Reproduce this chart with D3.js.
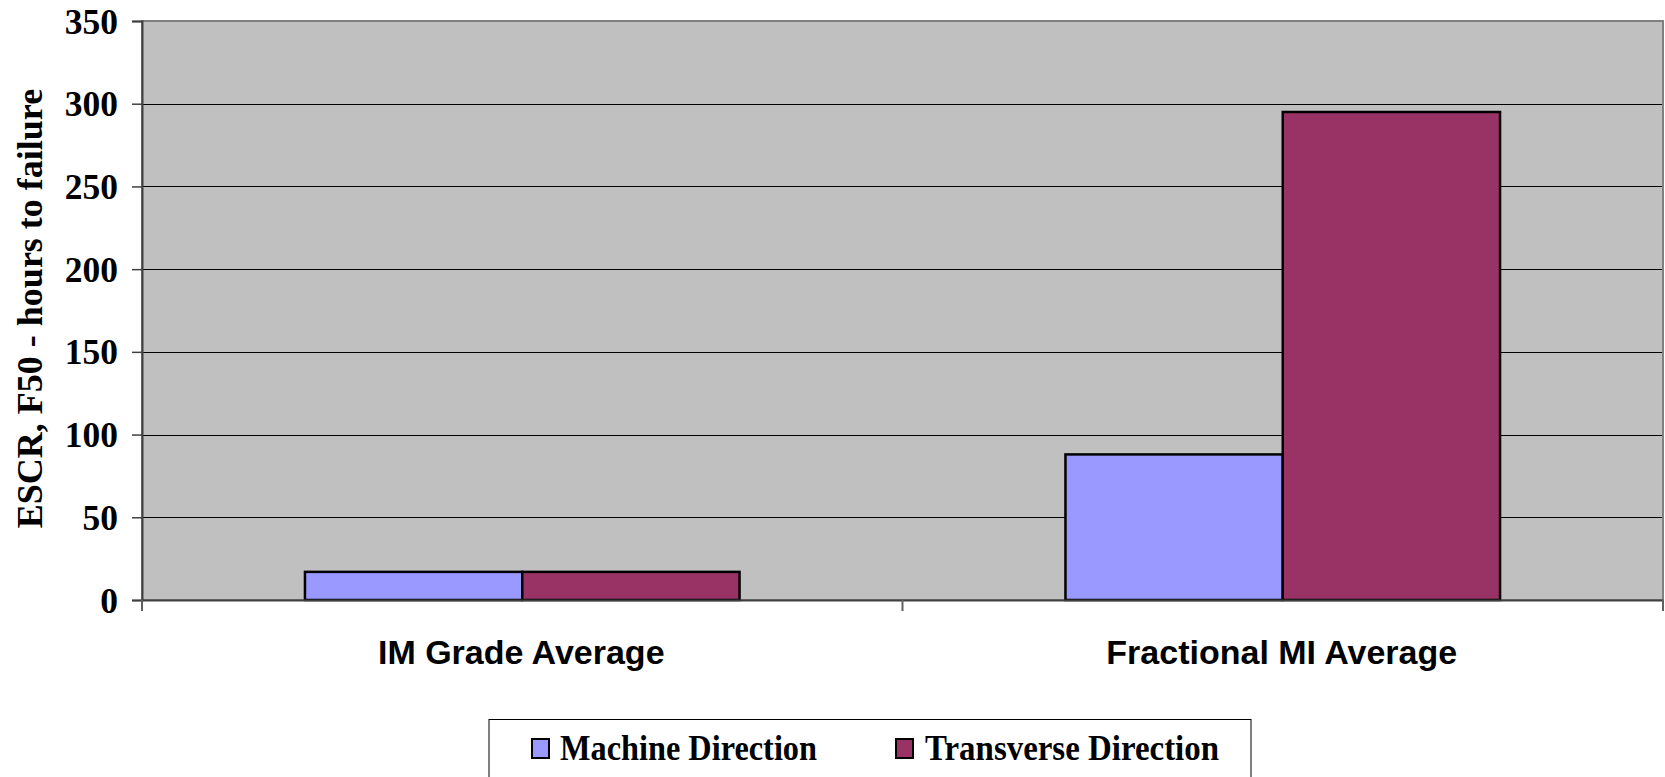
<!DOCTYPE html>
<html>
<head>
<meta charset="utf-8">
<script src="https://cdn.jsdelivr.net/npm/d3@7"></script>
<style>
  html, body { margin: 0; padding: 0; background: #fff; }
  svg { display: block; }
</style>
</head>
<body>
<script>
const categories = ["IM Grade Average", "Fractional MI Average"];
const seriesNames = ["Machine Direction", "Transverse Direction"];
const machineDirection = [17, 88];
const transverseDirection = [17, 295];
const yTicks = [0, 50, 100, 150, 200, 250, 300, 350];
const colors = ["#9999FF", "#993366"];
const yLabel = "ESCR, F50 - hours to failure";

const W = 1665, H = 777;
const m = { left: 142, right: 1663, top: 21, bottom: 600 };

const svg = d3.select("body").append("svg").attr("width", W).attr("height", H);

const x0 = d3.scaleBand().domain(categories).range([m.left, m.right]).paddingInner(0).paddingOuter(0);
const x1 = d3.scaleBand().domain(seriesNames).range([0, x0.bandwidth()]).paddingOuter(0.75).paddingInner(0);
const y = d3.scaleLinear().domain([0, 350]).range([m.bottom, m.top]);

// plot background
svg.append("rect").attr("x", m.left).attr("y", m.top)
  .attr("width", m.right - m.left).attr("height", m.bottom - m.top)
  .attr("fill", "#C0C0C0").attr("stroke", "#808080").attr("stroke-width", 2);

// gridlines
svg.append("g").selectAll("line").data(yTicks.filter(d => d > 0 && d < 350)).join("line")
  .attr("x1", m.left).attr("x2", m.right - 1)
  .attr("y1", d => Math.round(y(d)) + 0.5).attr("y2", d => Math.round(y(d)) + 0.5)
  .attr("stroke", "#000").attr("stroke-width", 1);

// bars
const data = categories.map((c, i) => ({ cat: c, vals: [machineDirection[i], transverseDirection[i]] }));
const groups = svg.append("g").selectAll("g").data(data).join("g")
  .attr("transform", d => `translate(${x0(d.cat)},0)`);
groups.selectAll("rect").data(d => d.vals.map((v, j) => ({ v, s: seriesNames[j], j }))).join("rect")
  .attr("x", d => x1(d.s)).attr("width", x1.bandwidth())
  .attr("y", d => y(d.v)).attr("height", d => y(0) - y(d.v))
  .attr("fill", d => colors[d.j]).attr("stroke", "#000").attr("stroke-width", 2.5);

// y axis
const yAxis = d3.axisLeft(y).tickValues(yTicks).tickSize(10).tickPadding(14).tickFormat(d3.format("d"));
const gy = svg.append("g").attr("transform", `translate(${m.left},0)`).call(yAxis);
gy.select(".domain").attr("stroke", "#404040").attr("stroke-width", 2);
gy.selectAll(".tick line").attr("stroke", "#404040").attr("stroke-width", 1.5);
gy.selectAll(".tick text")
  .attr("font-family", "'Liberation Serif', 'Times New Roman', serif")
  .attr("font-weight", "bold").attr("font-size", 35.5).attr("fill", "#000")
  .attr("dy", "0.34em");

// x axis
const xAxis = d3.axisBottom(x0).tickSize(0).tickFormat("");
const gx = svg.append("g").attr("transform", `translate(0,${m.bottom})`).call(xAxis);
gx.select(".domain").attr("stroke", "#404040").attr("stroke-width", 2);
// category boundary ticks
const bounds = [m.left, x0(categories[1]), m.right];
svg.append("g").selectAll("line").data(bounds).join("line")
  .attr("x1", d => d).attr("x2", d => d)
  .attr("y1", m.bottom).attr("y2", m.bottom + 11)
  .attr("stroke", "#606060").attr("stroke-width", 2);

// category labels
svg.append("g").selectAll("text").data(categories).join("text")
  .attr("x", d => x0(d) + x0.bandwidth() / 2 - 1)
  .attr("y", 663.5)
  .attr("text-anchor", "middle")
  .attr("font-family", "'Liberation Sans', Arial, sans-serif")
  .attr("font-weight", "bold").attr("font-size", 34).attr("fill", "#000")
  .text(d => d);

// y label
svg.append("text")
  .attr("transform", `translate(41.5,${(m.top + m.bottom) / 2 - 2}) rotate(-90)`)
  .attr("text-anchor", "middle")
  .attr("font-family", "'Liberation Serif', 'Times New Roman', serif")
  .attr("font-weight", "bold").attr("font-size", 36).attr("fill", "#000")
  .text(yLabel);

// legend
const lg = svg.append("g");
lg.append("rect").attr("x", 489).attr("y", 719.5).attr("width", 762).attr("height", 80)
  .attr("fill", "#fff").attr("stroke", "#000").attr("stroke-width", 1);
const legendItems = [
  { name: seriesNames[0], color: colors[0], sx: 532, tx: 560, tw: 257 },
  { name: seriesNames[1], color: colors[1], sx: 896, tx: 925, tw: 294 }
];
legendItems.forEach(it => {
  lg.append("rect").attr("x", it.sx).attr("y", 739).attr("width", 17).attr("height", 19)
    .attr("fill", it.color).attr("stroke", "#000").attr("stroke-width", 2);
  lg.append("text").attr("x", it.tx).attr("y", 760)
    .attr("font-family", "'Liberation Serif', 'Times New Roman', serif")
    .attr("font-weight", "bold").attr("font-size", 36).attr("fill", "#000")
    .attr("textLength", it.tw).attr("lengthAdjust", "spacingAndGlyphs")
    .text(it.name);
});
</script>
</body>
</html>
